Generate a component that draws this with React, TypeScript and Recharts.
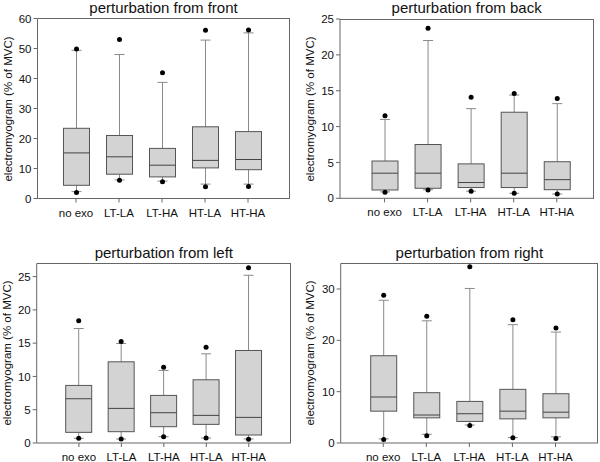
import React from 'react';
import { ComposedChart, Bar, XAxis, YAxis } from 'recharts';

const categories = ['no exo', 'LT-LA', 'LT-HA', 'HT-LA', 'HT-HA'];

// perturbation from front
const frontMin = [2.0, 6.1, 5.6, 3.9, 4.0];
const frontLow = [2.3, 6.2, 5.8, 4.8, 4.8];
const frontQ1 = [4.4, 8.1, 7.2, 10.2, 9.6];
const frontMedian = [15.2, 13.9, 11.1, 12.7, 13.0];
const frontQ3 = [23.4, 21.0, 16.7, 23.9, 22.3];
const frontHigh = [49.4, 48.0, 38.7, 52.8, 55.2];
const frontMax = [49.8, 53.0, 41.9, 56.1, 56.2];

// perturbation from back
const backMin = [0.84, 1.16, 1.0, 0.7, 0.6];
const backLow = [0.9, 1.2, 1.0, 0.7, 0.6];
const backQ1 = [1.16, 1.4, 1.5, 1.5, 1.2];
const backMedian = [3.5, 3.5, 2.2, 3.5, 2.6];
const backQ3 = [5.2, 7.5, 4.8, 12.0, 5.1];
const backHigh = [11.0, 22.0, 12.5, 14.4, 13.2];
const backMax = [11.5, 23.7, 14.1, 14.6, 13.9];

// perturbation from left
const leftMin = [0.7, 0.6, 0.95, 0.75, 0.55];
const leftLow = [0.7, 0.6, 0.95, 0.75, 0.6];
const leftQ1 = [1.6, 1.7, 2.45, 2.8, 1.2];
const leftMedian = [6.65, 5.2, 4.55, 4.15, 3.85];
const leftQ3 = [8.65, 12.2, 7.15, 9.5, 13.9];
const leftHigh = [17.2, 14.95, 10.9, 13.4, 25.2];
const leftMax = [18.35, 15.25, 11.4, 14.4, 26.35];

// perturbation from right
const rightMin = [0.7, 1.4, 3.4, 1.0, 0.9];
const rightLow = [0.8, 1.7, 3.5, 1.05, 1.2];
const rightQ1 = [6.2, 4.9, 4.2, 4.7, 4.9];
const rightMedian = [8.96, 5.45, 5.7, 6.2, 6.0];
const rightQ3 = [17.0, 9.8, 8.1, 10.45, 9.6];
const rightHigh = [27.8, 23.8, 30.1, 23.05, 21.6];
const rightMax = [28.8, 24.7, 34.35, 24.0, 22.4];

const frontTicks = [0, 10, 20, 30, 40, 50, 60];
const backTicks = [0, 5, 10, 15, 20, 25];
const leftTicks = [0, 5, 10, 15, 20, 25];
const rightTicks = [0, 10, 20, 30];

const yLabel = 'electromyogram (% of MVC)';
const font = '"Liberation Sans", Arial, sans-serif';

const makeRows = (
  min: number[], low: number[], q1: number[], med: number[],
  q3: number[], high: number[], max: number[]
) =>
  categories.map((cat, i) => ({
    cat,
    range: [min[i], max[i]],
    min: min[i], low: low[i], q1: q1[i], med: med[i],
    q3: q3[i], high: high[i], max: max[i],
  }));

const BoxShape = (props: any) => {
  const { x, y, width, height, payload } = props;
  if (!payload) return null;
  const top = Math.min(y, y + height);
  const bottom = Math.max(y, y + height);
  const lo = payload.min;
  const hi = payload.max;
  const py = (v: number) => bottom - ((v - lo) / (hi - lo)) * (bottom - top);
  const cx = x + width / 2;
  const cap = 5;
  const whisker = '#8a8a8a';
  const edge = '#555';
  return (
    <g>
      <line x1={cx} x2={cx} y1={py(payload.high)} y2={py(payload.q3)} stroke={whisker} />
      <line x1={cx} x2={cx} y1={py(payload.q1)} y2={py(payload.low)} stroke={whisker} />
      <line x1={cx - cap} x2={cx + cap} y1={py(payload.high)} y2={py(payload.high)} stroke={whisker} />
      <line x1={cx - cap} x2={cx + cap} y1={py(payload.low)} y2={py(payload.low)} stroke={whisker} />
      <rect
        x={x}
        y={py(payload.q3)}
        width={width}
        height={py(payload.q1) - py(payload.q3)}
        fill="#d3d3d3"
        stroke={edge}
      />
      <line x1={x} x2={x + width} y1={py(payload.med)} y2={py(payload.med)} stroke="#444" />
      <circle cx={cx} cy={py(payload.max)} r={2.5} fill="#000" />
      <circle cx={cx} cy={py(payload.min)} r={2.5} fill="#000" />
    </g>
  );
};

interface PanelProps {
  title: string;
  rows: any[];
  domain: number[];
  ticks: number[];
  left: number;
  top: number;
  plotLeft: number;
  plotTop: number;
  plotRight: number;
  plotBottom: number;
  padLeft: number;
  padRight: number;
  titleY: number;
  labelX: number;
}

const W = 300;
const H = 231;
const axisColor = '#666';
const tickStyle = { fill: '#111', fontSize: 11.5, fontFamily: font };

const Panel: React.FC<PanelProps> = (p) => {
  const plotCx = (p.plotLeft + p.plotRight) / 2;
  const plotCy = (p.plotTop + p.plotBottom) / 2;
  const bottomSpace = H - p.plotBottom;
  return (
    <div style={{ position: 'absolute', left: p.left, top: p.top, width: W, height: H }}>
      <ComposedChart
        width={W}
        height={H}
        data={p.rows}
        margin={{ top: p.plotTop, left: 0, right: W - p.plotRight, bottom: bottomSpace - 20 }}
        barSize={26}
      >
        <XAxis
          dataKey="cat"
          height={20}
          interval={0}
          padding={{ left: p.padLeft, right: p.padRight }}
          stroke={axisColor}
          tick={tickStyle}
          tickSize={4}
          tickMargin={6}
        />
        <YAxis
          domain={p.domain}
          ticks={p.ticks}
          width={p.plotLeft}
          stroke={axisColor}
          tick={tickStyle}
          tickSize={4}
          tickMargin={2}
          interval={0}
        />
        <Bar dataKey="range" shape={BoxShape} isAnimationActive={false} />
      </ComposedChart>
      {/* top and right edges of the plot frame */}
      <div
        style={{
          position: 'absolute',
          left: p.plotLeft,
          top: p.plotTop - 0.5,
          width: p.plotRight - p.plotLeft - 0.5,
          height: p.plotBottom - p.plotTop,
          borderTop: `1px solid ${axisColor}`,
          borderRight: `1px solid ${axisColor}`,
          pointerEvents: 'none',
        }}
      />
      <div
        style={{
          position: 'absolute', left: plotCx, top: p.titleY, transform: 'translate(-50%, -50%)',
          fontFamily: font, fontSize: 15, color: '#111', whiteSpace: 'nowrap',
        }}
      >
        {p.title}
      </div>
      <div
        style={{
          position: 'absolute', left: p.labelX, top: plotCy,
          transform: 'translate(-50%, -50%) rotate(-90deg)',
          fontFamily: font, fontSize: 11.5, color: '#111', whiteSpace: 'nowrap',
        }}
      >
        {yLabel}
      </div>
    </div>
  );
};

const frontRows = makeRows(frontMin, frontLow, frontQ1, frontMedian, frontQ3, frontHigh, frontMax);
const backRows = makeRows(backMin, backLow, backQ1, backMedian, backQ3, backHigh, backMax);
const leftRows = makeRows(leftMin, leftLow, leftQ1, leftMedian, leftQ3, leftHigh, leftMax);
const rightRows = makeRows(rightMin, rightLow, rightQ1, rightMedian, rightQ3, rightHigh, rightMax);

export default function App() {
  return (
    <div style={{ position: 'absolute', left: 0, top: 0, width: 600, height: 462, background: '#fff', overflow: 'hidden' }}>
      <Panel title="perturbation from front" rows={frontRows} domain={[0, 60]} ticks={frontTicks}
        left={0} top={0} plotLeft={37.5} plotTop={18.5} plotRight={289.5} plotBottom={198.5}
        padLeft={17} padRight={20} titleY={7} labelX={7.5} />
      <Panel title="perturbation from back" rows={backRows} domain={[0, 25]} ticks={backTicks}
        left={300} top={0} plotLeft={40} plotTop={19} plotRight={293.3} plotBottom={198.3}
        padLeft={23} padRight={15} titleY={7} labelX={10} />
      <Panel title="perturbation from left" rows={leftRows} domain={[0, 27]} ticks={leftTicks}
        left={0} top={231} plotLeft={36.7} plotTop={32.3} plotRight={291} plotBottom={212}
        padLeft={21} padRight={21} titleY={21} labelX={6.7} />
      <Panel title="perturbation from right" rows={rightRows} domain={[0, 35]} ticks={rightTicks}
        left={300} top={231} plotLeft={40.7} plotTop={32.3} plotRight={298} plotBottom={212}
        padLeft={21} padRight={21} titleY={21} labelX={10} />
    </div>
  );
}
